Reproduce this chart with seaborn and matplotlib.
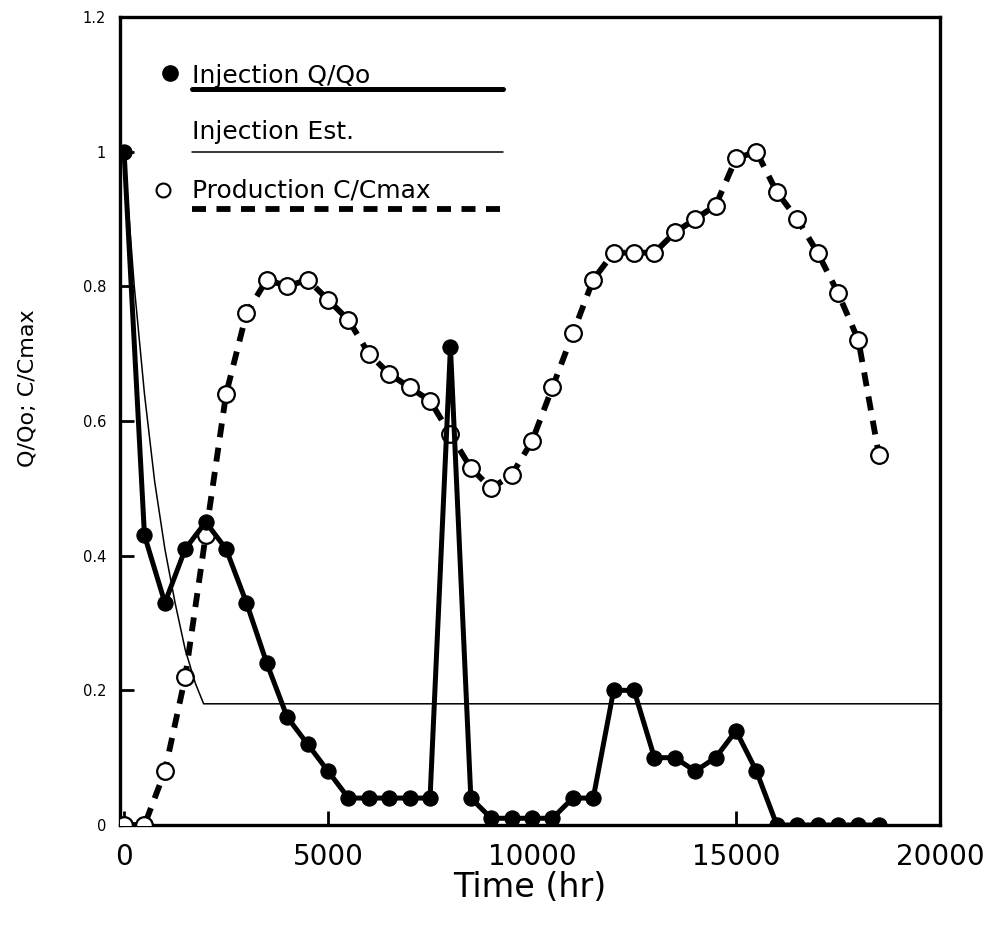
import matplotlib
matplotlib.use("Agg")
import matplotlib.pyplot as plt
import seaborn as sns
import pandas as pd
from matplotlib.lines import Line2D

# ---- data ----
time_hr = [0, 500, 1000, 1500, 2000, 2500, 3000, 3500, 4000, 4500,
           5000, 5500, 6000, 6500, 7000, 7500, 8000, 8500, 9000, 9500,
           10000, 10500, 11000, 11500, 12000, 12500, 13000, 13500, 14000, 14500,
           15000, 15500, 16000, 16500, 17000, 17500, 18000, 18500]
injection_q = [1.00, 0.43, 0.33, 0.41, 0.45, 0.41, 0.33, 0.24, 0.16, 0.12,
               0.08, 0.04, 0.04, 0.04, 0.04, 0.04, 0.71, 0.04, 0.01, 0.01,
               0.01, 0.01, 0.04, 0.04, 0.20, 0.20, 0.10, 0.10, 0.08, 0.10,
               0.14, 0.08, 0.00, 0.00, 0.00, 0.00, 0.00, 0.00]
production_c = [0.00, 0.00, 0.08, 0.22, 0.43, 0.64, 0.76, 0.81, 0.80, 0.81,
                0.78, 0.75, 0.70, 0.67, 0.65, 0.63, 0.58, 0.53, 0.50, 0.52,
                0.57, 0.65, 0.73, 0.81, 0.85, 0.85, 0.85, 0.88, 0.90, 0.92,
                0.99, 1.00, 0.94, 0.90, 0.85, 0.79, 0.72, 0.55]
est_time = [0, 250, 500, 750, 1000, 1250, 1500, 1750, 1950, 20000]
est_q = [1.00, 0.80, 0.64, 0.51, 0.41, 0.33, 0.26, 0.21, 0.18, 0.18]

x_ticks = [0, 5000, 10000, 15000, 20000]
x_tick_labels = ["0", "5000", "10000", "15000", "20000"]
y_ticks = [0, 0.2, 0.4, 0.6, 0.8, 1.0, 1.2]
y_tick_labels = ["0", "0.2", "0.4", "0.6", "0.8", "1", "1.2"]

legend_labels = ["Injection Q/Qo", "Injection Est.", "Production C/Cmax"]

df = pd.DataFrame({"time": time_hr, "inj": injection_q, "prod": production_c})
df_est = pd.DataFrame({"time": est_time, "est": est_q})

sns.set_theme(style="ticks")
plt.rcParams["font.family"] = ["DejaVu Sans"]
plt.rcParams["text.color"] = "black"
plt.rcParams["axes.labelcolor"] = "black"
plt.rcParams["xtick.color"] = "black"
plt.rcParams["ytick.color"] = "black"

fig = plt.figure(figsize=(9.95, 9.3), dpi=100)
ax = fig.add_axes([120 / 995, (930 - 825) / 930, 820 / 995, 808 / 930])

dash = (0, (2.4, 1.8))

sns.lineplot(data=df, x="time", y="prod", ax=ax, color="black", linewidth=4.2,
             linestyle=dash, marker="o", markersize=12, markerfacecolor="white",
             markeredgecolor="black", markeredgewidth=1.6, zorder=3)
sns.lineplot(data=df_est, x="time", y="est", ax=ax, color="black",
             linewidth=1.1, zorder=4)
sns.lineplot(data=df, x="time", y="inj", ax=ax, color="black", linewidth=3.6,
             marker="o", markersize=11, markerfacecolor="black",
             markeredgecolor="black", zorder=5)

ax.set_xlim(-100, 20000)
ax.set_ylim(0, 1.2)
ax.set_xticks(x_ticks)
ax.set_xticklabels(x_tick_labels, fontsize=20, color="black")
ax.set_yticks(y_ticks)
ax.set_yticklabels(y_tick_labels, fontsize=10.5, color="black")
ax.tick_params(axis="both", which="major", direction="in", length=10,
               width=2, color="black", bottom=True, left=True,
               top=False, right=False)
ax.tick_params(axis="x", pad=13)
ax.tick_params(axis="y", pad=10)

for s in ax.spines.values():
    s.set_visible(True)
    s.set_color("black")
    s.set_linewidth(2.4)

ax.set_xlabel("Time (hr)", fontsize=24, labelpad=0, color="black")
ax.set_ylabel("Q/Qo; C/Cmax", fontsize=16, color="black")
ax.yaxis.set_label_coords(-0.100, 0.54)
ax.grid(False)

# ---- custom legend (marker, text, sample line underneath) ----
tr = ax.transAxes
x_txt = (192 - 120) / 820
x_end = (503 - 120) / 820
x_mk = (170 - 120) / 820

def ay(py):
    return (825 - py) / 808

# Injection Q/Qo
ax.add_line(Line2D([x_mk], [ay(73)], transform=tr, marker="o", markersize=11,
                   color="black", linestyle="none", clip_on=False))
ax.text(x_txt, ay(76), legend_labels[0], transform=tr, fontsize=18,
        va="center", ha="left", color="black")
ax.add_line(Line2D([x_txt, x_end], [ay(89), ay(89)], transform=tr,
                   color="black", linewidth=3.6))
# Injection Est.
ax.text(x_txt, ay(132), legend_labels[1], transform=tr, fontsize=18,
        va="center", ha="left", color="black")
ax.add_line(Line2D([x_txt, x_end], [ay(152), ay(152)], transform=tr,
                   color="black", linewidth=1.1))
# Production C/Cmax
ax.add_line(Line2D([x_mk - 0.008], [ay(190)], transform=tr, marker="o",
                   markersize=10, markerfacecolor="white",
                   markeredgecolor="black", markeredgewidth=1.5,
                   linestyle="none"))
ax.text(x_txt, ay(190), legend_labels[2], transform=tr, fontsize=18,
        va="center", ha="left", color="black")
ax.add_line(Line2D([x_txt, x_end], [ay(209), ay(209)], transform=tr,
                   color="black", linewidth=4.2, linestyle=dash))

fig.savefig("out.png", dpi=100)
